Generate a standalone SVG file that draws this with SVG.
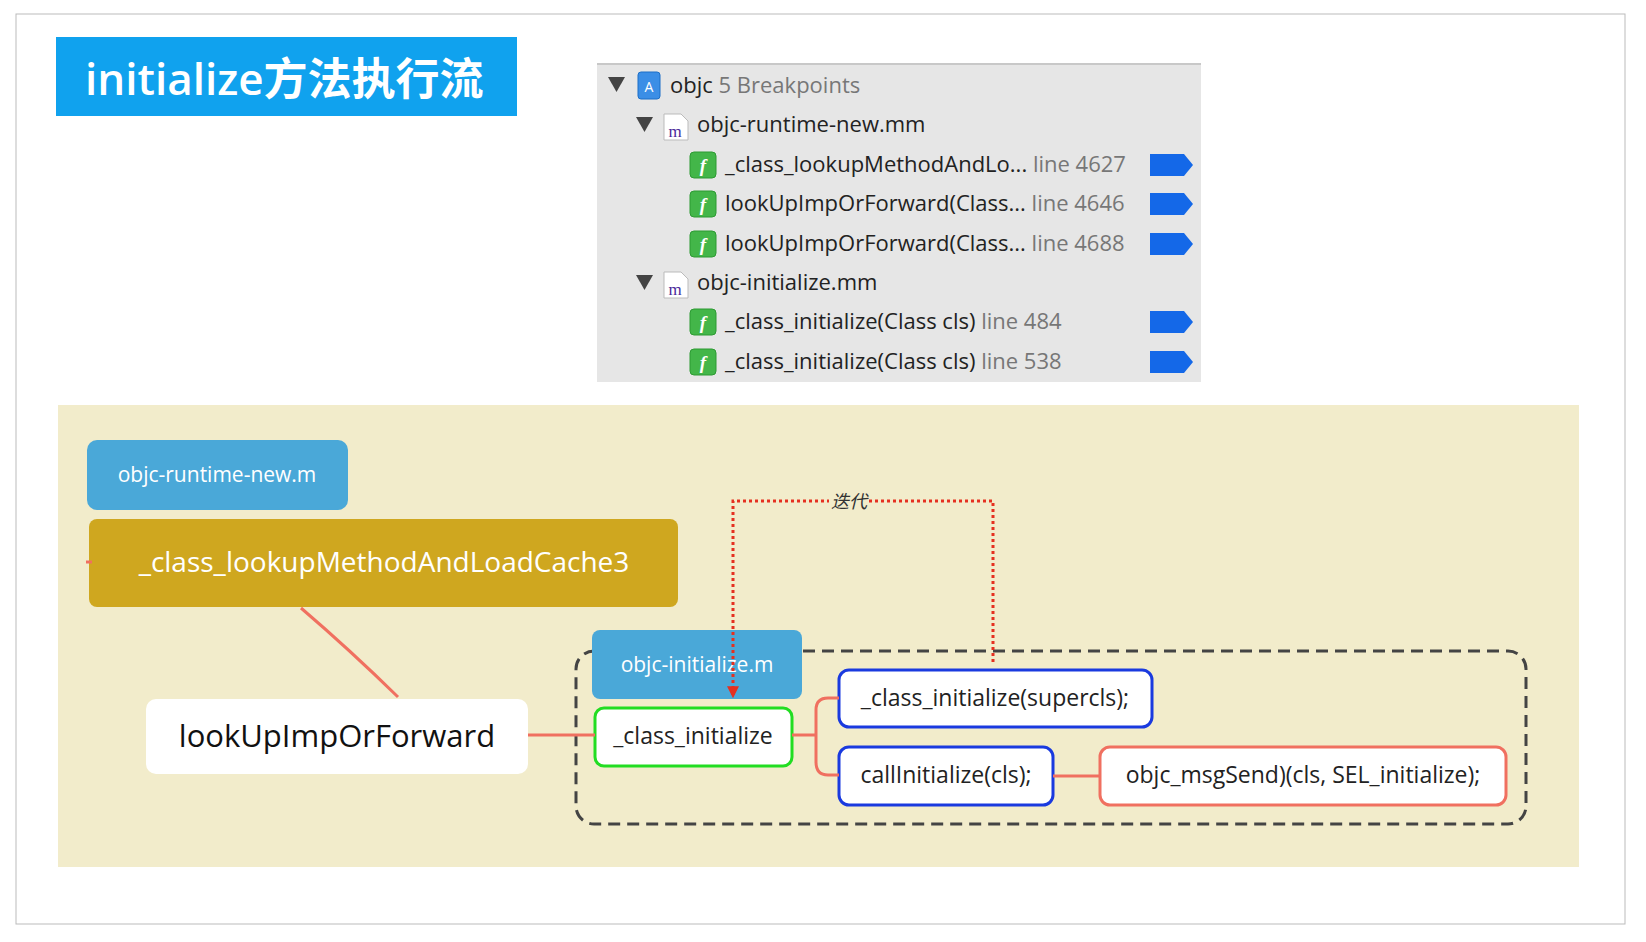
<svg xmlns="http://www.w3.org/2000/svg" width="1646" height="942" viewBox="0 0 1646 942">
<style>
text{font-family:"Open Sans","Liberation Sans",sans-serif}
.bp{font-size:22px;fill:#222}
.g{fill:#777}
.w{fill:#fff}
.n{font-size:23px;fill:#222}
.con{stroke:#f07060;stroke-width:3;fill:none}
.tag{fill:#1468e8}
.fi{fill:#43b649;stroke:#2d9a33;stroke-width:1}
</style>
<defs>
<marker id="ar" viewBox="0 0 10 10" refX="9" refY="5" markerWidth="4" markerHeight="4" orient="auto"><path d="M0,0L10,5L0,10z" fill="#e53020"/></marker>
<g id="f"><rect class="fi" x="0" y="-13" width="26" height="26" rx="4"/><text x="13" y="7" text-anchor="middle" style="font-size:19px;font-style:italic;font-weight:bold;fill:#fff;font-family:'Liberation Serif',serif">f</text></g>
<path id="tg" class="tag" d="M0,-11H34L43,0L34,11H0z"/>
<g id="m"><path d="M0,-13H17L24,-6V13H0z" fill="#fff" stroke="#bbb"/><text x="11" y="10" text-anchor="middle" style="font-size:17px;fill:#4a2a9a;font-family:'Liberation Serif',serif">m</text></g>
</defs>
<rect x="16" y="14" width="1609" height="910" fill="#fff" stroke="#bbb"/>
<g id="title"><rect x="56" y="37" width="461" height="79" fill="#10a2ee"/><text x="85" y="95" style="font-size:44px;font-weight:600;fill:#fff;font-family:'Open Sans','Noto Sans CJK SC',sans-serif">initialize方法执行流</text></g>
<g id="panel">
<rect x="597" y="63" width="604" height="319" fill="#e6e6e6"/>
<line x1="597" y1="64" x2="1201" y2="64" stroke="#c8c8c8" stroke-width="2"/>
<path d="M608,77H625L616.5,92z" fill="#444"/>
<rect x="638" y="72" width="22" height="27" rx="3" fill="#3b8ee6" stroke="#1d6fc7"/>
<text x="649" y="92" text-anchor="middle" style="font-size:14px;fill:#fff">A</text>
<text x="670" y="93" class="bp">objc <tspan class="g">5 Breakpoints</tspan></text>
<path d="M636,117H653L644.5,132z" fill="#444"/>
<use href="#m" x="664" y="127"/>
<text x="697" y="132" class="bp">objc-runtime-new.mm</text>
<use href="#f" x="690" y="165"/><text x="725" y="172" class="bp">_class_lookupMethodAndLo... <tspan class="g">line 4627</tspan></text><use href="#tg" x="1150" y="165"/>
<use href="#f" x="690" y="204"/><text x="725" y="211" class="bp">lookUpImpOrForward(Class... <tspan class="g">line 4646</tspan></text><use href="#tg" x="1150" y="204"/>
<use href="#f" x="690" y="244"/><text x="725" y="251" class="bp">lookUpImpOrForward(Class... <tspan class="g">line 4688</tspan></text><use href="#tg" x="1150" y="244"/>
<path d="M636,275H653L644.5,290z" fill="#444"/>
<use href="#m" x="664" y="285"/>
<text x="697" y="290" class="bp">objc-initialize.mm</text>
<use href="#f" x="690" y="322"/><text x="725" y="329" class="bp">_class_initialize(Class cls) <tspan class="g">line 484</tspan></text><use href="#tg" x="1150" y="322"/>
<use href="#f" x="690" y="362"/><text x="725" y="369" class="bp">_class_initialize(Class cls) <tspan class="g">line 538</tspan></text><use href="#tg" x="1150" y="362"/>
</g>
<rect x="58" y="405" width="1521" height="462" fill="#f2eccb"/>
<rect id="group" x="576" y="651" width="950" height="173" rx="18" fill="none" stroke="#444" stroke-width="3" stroke-dasharray="12,7"/>
<g id="runtime"><rect x="87" y="440" width="261" height="70" rx="10" fill="#4aa8d8"/><text x="217" y="482" text-anchor="middle" style="font-size:21px" class="w">objc-runtime-new.m</text></g>
<g id="lookupCache"><rect x="89" y="519" width="589" height="88" rx="8" fill="#cfa71f"/><text x="384" y="572" text-anchor="middle" style="font-size:28px" class="w">_class_lookupMethodAndLoadCache3</text></g>
<g id="lookUp"><rect x="146" y="699" width="382" height="75" rx="10" fill="#fff"/><text x="337" y="747" text-anchor="middle" style="font-size:31px;fill:#111">lookUpImpOrForward</text></g>
<g id="initm"><rect x="592" y="630" width="210" height="69" rx="8" fill="#4aa8d8"/><text x="697" y="672" text-anchor="middle" style="font-size:21px" class="w">objc-initialize.m</text></g>
<g id="classinit"><rect x="595" y="708" width="197" height="58" rx="9" fill="#fff" stroke="#22dd22" stroke-width="3"/><text x="693" y="744" text-anchor="middle" class="n">_class_initialize</text></g>
<g id="super"><rect x="839" y="670" width="313" height="57" rx="10" fill="#fff" stroke="#1a3adf" stroke-width="3"/><text x="995" y="706" text-anchor="middle" class="n">_class_initialize(supercls);</text></g>
<g id="callinit"><rect x="839" y="747" width="214" height="58" rx="10" fill="#fff" stroke="#1a3adf" stroke-width="3"/><text x="946" y="783" text-anchor="middle" class="n">callInitialize(cls);</text></g>
<g id="msgsend"><rect x="1100" y="747" width="406" height="58" rx="10" fill="#fff" stroke="#f07060" stroke-width="3"/><text x="1303" y="783" text-anchor="middle" class="n">objc_msgSend)(cls, SEL_initialize);</text></g>
<g id="connectors">
<path class="con" d="M301,608Q350,650 398,697"/>
<path class="con" d="M528,735H595"/>
<path class="con" d="M792,735H816M839,698H828Q816,698 816,710V762Q816,775 828,775H839"/>
<path class="con" d="M1053,776H1100"/>
<path class="con" d="M86,562H92"/>
<path d="M993,662V501H733V697" fill="none" stroke="#e53020" stroke-width="3" stroke-dasharray="3,3" marker-end="url(#ar)"/>
<rect x="829" y="489" width="40" height="24" fill="#f2eccb"/>
<text x="849" y="508" text-anchor="middle" style="font-size:18px;font-style:italic;fill:#333;font-family:'Noto Sans CJK SC',sans-serif">迭代</text>
</g>
</svg>
